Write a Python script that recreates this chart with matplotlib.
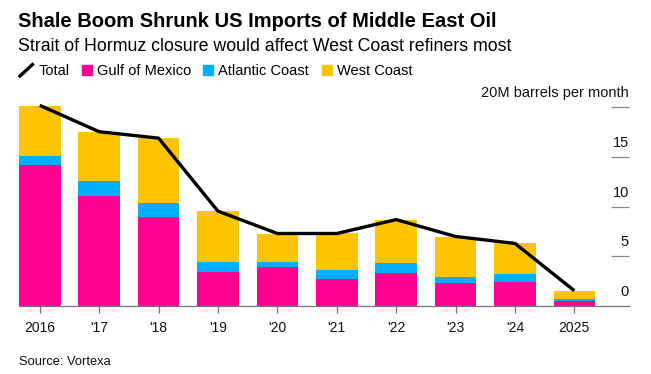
import matplotlib.pyplot as plt
from matplotlib.patches import Rectangle
from matplotlib.lines import Line2D
import matplotlib.transforms as mtransforms

plt.rcParams['font.family'] = ['Liberation Sans', 'DejaVu Sans']

# data (million barrels per month)
years = ['2016', "'17", "'18", "'19", "'20", "'21", "'22", "'23", "'24", '2025']
gulf = [14.2, 11.1, 9.0, 3.45, 3.95, 2.75, 3.3, 2.3, 2.4, 0.55]
atlantic = [0.9, 1.5, 1.4, 1.0, 0.5, 0.9, 1.05, 0.65, 0.85, 0.2]
west = [5.0, 4.95, 6.55, 5.1, 2.8, 3.7, 4.3, 4.0, 3.1, 0.8]
total = [20.2, 17.55, 16.9, 9.55, 7.3, 7.3, 8.7, 7.0, 6.3, 1.54]
yticks = [0, 5, 10, 15, 20]

PINK = '#ff0090'
BLUE = '#00aeff'
YELLOW = '#ffc400'

W, H = 651, 374
fig = plt.figure(figsize=(W / 100, H / 100), dpi=100)

def fx(px):
    return px / W

def fy(py):
    return (H - py) / H

# axes box in pixels
left, right, bottom, top = 19, 629, 306, 102.4
ax = fig.add_axes([fx(left), fy(bottom), fx(right - left), (bottom - top) / H])

x = list(range(len(years)))
bw = 0.70
base2 = [g + a for g, a in zip(gulf, atlantic)]
ax.bar(x, gulf, width=bw, color=PINK, edgecolor='none', zorder=2)
ax.bar(x, atlantic, width=bw, bottom=gulf, color=BLUE, edgecolor='none', zorder=2)
ax.bar(x, west, width=bw, bottom=base2, color=YELLOW, edgecolor='none', zorder=2)
ax.plot(x, total, color='black', lw=2.4, solid_capstyle='butt', zorder=3)

ax.set_xlim(-0.35, 9.92)
ax.set_ylim(0, 20.5)

for s in ['top', 'right', 'left']:
    ax.spines[s].set_visible(False)
ax.spines['bottom'].set_color('#777777')
ax.spines['bottom'].set_linewidth(0.9)

ax.set_xticks(x)
ax.set_xticklabels(years, fontsize=10, color='#111111')
ax.tick_params(axis='x', length=5, width=0.9, color='#777777', pad=6)

# right-side y ticks drawn as short stubs with labels above
ax.yaxis.tick_right()
ax.set_yticks([t for t in yticks if t > 0])
ax.set_yticklabels([])
ax.tick_params(axis='y', direction='in', length=13, width=0.9, color='#888888')

trans = mtransforms.blended_transform_factory(ax.transAxes, ax.transData)
for t in yticks:
    lab = '20M barrels per month' if t == 20 else str(t)
    ax.text(1.0, t + 0.7, lab, transform=trans, ha='right', va='bottom',
            fontsize=10.5, color='#111111', clip_on=False)

# titles
fig.text(fx(18), fy(27), 'Shale Boom Shrunk US Imports of Middle East Oil',
         fontsize=14.5, fontweight='bold', ha='left', va='baseline')
fig.text(fx(18), fy(50.7), 'Strait of Hormuz closure would affect West Coast refiners most',
         fontsize=12.8, ha='left', va='baseline')

# legend
fig.add_artist(Line2D([fx(20), fx(32.5)], [fy(76), fy(64.5)], color='black', lw=2.4,
                      transform=fig.transFigure))
fig.text(fx(39), fy(75.3), 'Total', fontsize=10.5, ha='left', va='baseline')
items = [(82, 'Gulf of Mexico', PINK), (203, 'Atlantic Coast', BLUE), (322, 'West Coast', YELLOW)]
for px, lab, col in items:
    fig.add_artist(Rectangle((fx(px), fy(75.3)), fx(10), 10 / H, color=col,
                             transform=fig.transFigure))
    fig.text(fx(px + 15), fy(75.3), lab, fontsize=10.5, ha='left', va='baseline')

fig.text(fx(19), fy(365), 'Source: Vortexa', fontsize=9.3, ha='left', va='baseline', color='#111111')

fig.savefig('out.png', dpi=100)
